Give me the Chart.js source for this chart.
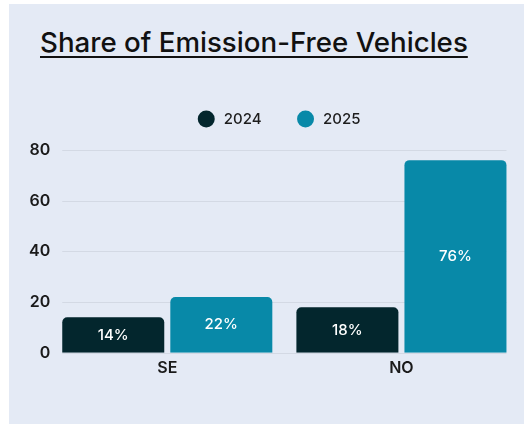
<!DOCTYPE html>
<html>
<head>
  <title>Share of Emission-Free Vehicles</title>
  <script src="https://cdn.jsdelivr.net/npm/chart.js"></script>
  <style>
    body { margin: 0; background: #fff; width: 524px; height: 424px; overflow: hidden; position: relative; }
    #panel { position: absolute; left: 9px; top: 4px; right: 0; bottom: 0; background: #e4eaf5; }
    #title {
      position: absolute; left: 40px; top: 29px; margin: 0;
      font: 500 27.7px Inter, sans-serif; line-height: 1; color: #111;
      text-decoration: underline; text-decoration-thickness: 2px; text-underline-offset: 4px;
    }
    #wrap { position: absolute; left: 0; top: 0; width: 524px; height: 424px; }
  </style>
</head>
<body>
  <div id="panel"></div>
  <h1 id="title">Share of Emission-Free Vehicles</h1>
  <div id="wrap">
    <canvas id="evChart"></canvas>
  </div>

  <script>
    // chart values
    const countries = ['SE', 'NO'];
    const seriesNames = ['2024', '2025'];
    const share2024 = [14, 18];
    const share2025 = [22, 76];
    const yTicks = [0, 20, 40, 60, 80];

    const darkTeal = '#03262d';
    const teal = '#0889a8';
    const gridColor = '#d3d9e4';

    // gridlines only as wide as the bars
    const shortGrid = {
      id: 'shortGrid',
      beforeDatasetsDraw(chart) {
        const y = chart.scales.y;
        let left = Infinity, right = -Infinity;
        chart.data.datasets.forEach((ds, i) => {
          chart.getDatasetMeta(i).data.forEach(bar => {
            left = Math.min(left, bar.x - bar.width / 2);
            right = Math.max(right, bar.x + bar.width / 2);
          });
        });
        const ctx = chart.ctx;
        ctx.save();
        ctx.strokeStyle = gridColor;
        ctx.lineWidth = 1;
        yTicks.forEach(v => {
          const py = Math.round(y.getPixelForValue(v)) + 0.5;
          ctx.beginPath();
          ctx.moveTo(left, py);
          ctx.lineTo(right, py);
          ctx.stroke();
        });
        ctx.restore();
      }
    };

    // percentage labels in the middle of each bar
    const barLabels = {
      id: 'barLabels',
      afterDatasetsDraw(chart) {
        const ctx = chart.ctx;
        ctx.save();
        ctx.fillStyle = '#ffffff';
        ctx.font = '500 15px Inter, sans-serif';
        ctx.textAlign = 'center';
        ctx.textBaseline = 'middle';
        chart.data.datasets.forEach((ds, i) => {
          chart.getDatasetMeta(i).data.forEach((bar, j) => {
            ctx.fillText(ds.data[j] + '%', bar.x, (bar.y + bar.base) / 2);
          });
        });
        ctx.restore();
      }
    };

    // space between legend and plot
    const legendGap = {
      id: 'legendGap',
      beforeInit(chart) {
        const fit = chart.legend.fit;
        chart.legend.fit = function () {
          fit.bind(chart.legend)();
          this.height += 13.5;
        };
      }
    };

    const tickFont = { family: 'Inter', size: 16, weight: '600' };

    new Chart(document.getElementById('evChart'), {
      type: 'bar',
      data: {
        labels: countries,
        datasets: [
          { label: seriesNames[0], data: share2024, backgroundColor: darkTeal },
          { label: seriesNames[1], data: share2025, backgroundColor: teal }
        ]
      },
      options: {
        responsive: true,
        maintainAspectRatio: false,
        animation: false,
        layout: { padding: { left: 29, right: 5.5, top: 73.5, bottom: 40 } },
        datasets: {
          bar: {
            categoryPercentage: 0.923,
            barPercentage: 0.944,
            borderRadius: 5,
            borderSkipped: 'bottom'
          }
        },
        scales: {
          x: {
            grid: { display: false, drawTicks: false },
            border: { display: false },
            ticks: { color: '#1a1a1a', font: tickFont, padding: 6 }
          },
          y: {
            min: 0,
            max: 80,
            grid: { display: false, drawTicks: false },
            border: { display: false },
            ticks: { stepSize: 20, color: '#1a1a1a', font: tickFont, padding: 0 }
          }
        },
        plugins: {
          legend: {
            position: 'top',
            fullSize: false,
            labels: {
              usePointStyle: true,
              pointStyle: 'circle',
              boxWidth: 12,
              boxHeight: 12,
              padding: 38,
              color: '#1d1d1d',
              font: { family: 'Inter', size: 15, weight: '500' },
              generateLabels(chart) {
                const items = Chart.defaults.plugins.legend.labels.generateLabels(chart);
                items.forEach((it, i) => {
                  it.text = ' ' + it.text + (i === items.length - 1 ? '  ' : '');
                });
                return items;
              }
            }
          },
          tooltip: { enabled: false }
        }
      },
      plugins: [shortGrid, barLabels, legendGap]
    });
  </script>
</body>
</html>
